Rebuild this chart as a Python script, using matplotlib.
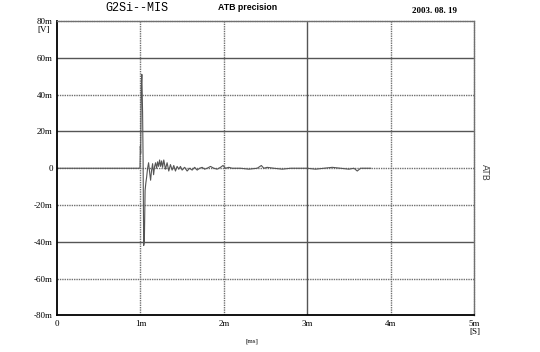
import numpy as np
import matplotlib
matplotlib.use('Agg')
import matplotlib.pyplot as plt

# trace: time [ms], voltage [mV]
t_ms = [0.0, 0.99, 0.995, 0.999, 1.003, 1.010, 1.017, 1.026, 1.032, 1.039,
        1.047, 1.056, 1.065, 1.074, 1.086, 1.098, 1.110, 1.122, 1.134, 1.146,
        1.158, 1.170, 1.182, 1.194, 1.206, 1.218, 1.230, 1.242, 1.254, 1.266,
        1.280, 1.300, 1.320, 1.340, 1.360, 1.380, 1.400, 1.420, 1.440, 1.460,
        1.480, 1.500, 1.530, 1.560, 1.590, 1.620, 1.650, 1.680, 1.710, 1.740,
        1.770, 1.800, 1.840, 1.880, 1.920, 1.960, 1.990, 2.020, 2.060, 2.100,
        2.200, 2.300, 2.400, 2.450, 2.480, 2.520, 2.600, 2.700, 2.800, 2.900,
        3.000, 3.100, 3.200, 3.300, 3.400, 3.500, 3.560, 3.600, 3.640, 3.700,
        3.760]
v_mv = [0.0, 0.0, 0.5, 12.0, 8.0, 44.0, 51.0, 30.0, 5.0, -42.0,
        -40.0, -12.0, -8.0, -5.0, 0.0, 3.0, -2.0, -6.5, -1.0, 2.5,
        -3.5, 1.0, 3.0, 0.0, 3.5, 1.0, 4.5, 1.0, 4.0, 0.5,
        4.5, -0.5, 3.0, -1.5, 2.0, -1.0, 1.5, -1.5, 1.0, -0.5,
        1.0, -1.0, 0.5, -1.5, 0.0, -1.0, 0.5, -1.0, 0.0, 0.5,
        -0.5, 0.0, 1.0, 0.0, -0.5, 0.5, 1.5, 0.0, 0.5, 0.0,
        0.0, -0.5, 0.0, 1.5, 0.0, 0.5, 0.0, -0.5, 0.0, 0.0,
        0.0, -0.5, 0.0, 0.5, 0.0, -0.5, 0.0, -1.5, 0.0, 0.0,
        0.0]

x_ticks = [0, 1, 2, 3, 4, 5]
x_labels = ['0', '1m', '2m', '3m', '4m', '5m']
y_ticks = [-80, -60, -40, -20, 0, 20, 40, 60, 80]
y_labels = ['-80m', '-60m', '-40m', '-20m', '0', '20m', '40m', '60m', '80m']
solid_y = [60, 20, -40]
solid_x = [3]

fig = plt.figure(figsize=(5.4, 3.52), dpi=100)
ax = fig.add_axes([0.1056, 0.1037, 0.7722, 0.8366])
serif = 'Liberation Serif'

# grid: some lines solid, others dotted
for y in y_ticks[1:-1]:
    if y in solid_y:
        ax.axhline(y, color='#555555', lw=1.0, zorder=1)
    else:
        ax.axhline(y, color='#707070', lw=1.0, ls=(0, (1, 0.7)), zorder=1)
for x in x_ticks[1:-1]:
    if x in solid_x:
        ax.axvline(x, color='#555555', lw=1.0, zorder=1)
    else:
        ax.axvline(x, color='#707070', lw=1.0, ls=(0, (1, 0.7)), zorder=1)

ax.plot(t_ms, v_mv, color='#555555', lw=0.8, zorder=2)

ax.set_xlim(0, 5)
ax.set_ylim(-80, 80)
ax.set_xticks(x_ticks)
ax.set_xticklabels(x_labels, family=serif, fontsize=6.5)
ax.set_yticks(y_ticks)
ax.set_yticklabels(y_labels, family=serif, fontsize=6.5)
ax.tick_params(length=0, pad=3)

ax.spines['left'].set_color('black')
ax.spines['left'].set_linewidth(1.3)
ax.spines['bottom'].set_color('black')
ax.spines['bottom'].set_linewidth(1.3)
for s in ['top', 'right']:
    ax.spines[s].set_color('#707070')
    ax.spines[s].set_linestyle((0, (1, 0.7)))
    ax.spines[s].set_linewidth(1.0)

fig.text(137 / 540, 1 - 8 / 352, 'G2Si--MIS', family='Liberation Mono',
         fontsize=8.5, ha='center', va='center')
fig.text(248 / 540, 1 - 8 / 352, 'ATB precision', family='Liberation Sans',
         fontsize=6.3, fontweight='bold', ha='center', va='center')
fig.text(434 / 540, 1 - 11 / 352, '2003. 08. 19', family=serif,
         fontsize=6.5, fontweight='bold', ha='center', va='center')
fig.text(50 / 540, 1 - 30 / 352, '[V]', family=serif, fontsize=6.5,
         ha='right', va='center')
fig.text(475 / 540, 1 - 332 / 352, '[S]', family=serif, fontsize=6.5,
         ha='center', va='center')
fig.text(252 / 540, 1 - 341 / 352, '[ms]', family=serif, fontsize=5,
         ha='center', va='center')
fig.text(484 / 540, 1 - 172 / 352, 'ATB', family='DejaVu Sans', fontsize=6.5,
         rotation=-90, ha='center', va='center', color='#444444')

fig.savefig('out.png', dpi=100)
